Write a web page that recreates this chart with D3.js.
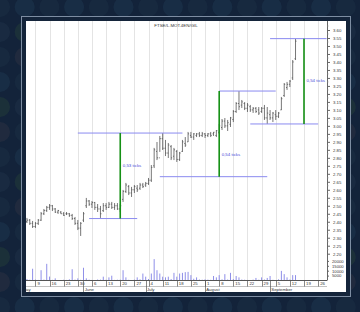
<!DOCTYPE html>
<html>
<head>
<meta charset="utf-8">
<script src="https://cdn.jsdelivr.net/npm/d3@7"></script>
<style>
    html, body { margin: 0; padding: 0; background: #13233a; }
    svg { display: block; font-family: "Liberation Sans", Arial, sans-serif; }
</style>
</head>
<body>
<div id="chart"></div>
<script>
// trading calendar shown on the axis
const axisStart = "2005-05-02";
const axisEnd = "2005-09-30";
const firstBar = "2005-05-04";
const title = "FTSE/L.MOT.4EN/GIL";
const monthNames = ["May", "June", "July", "August", "September"];

// daily OHLC, one value per trading day from firstBar on
const high = [
    2.424, 2.417, 2.405, 2.398, 2.417, 2.461, 2.480, 2.499, 2.511, 2.505,
    2.486, 2.474, 2.467, 2.461, 2.461, 2.455, 2.449, 2.430, 2.411, 2.398,
    2.461, 2.549, 2.536, 2.530, 2.524, 2.511, 2.499, 2.517, 2.517, 2.524,
    2.524, 2.517, 2.517, 2.511, 2.599, 2.643, 2.630, 2.618, 2.630, 2.630,
    2.643, 2.643, 2.649, 2.674, 2.755, 2.862, 2.899, 2.937, 2.955, 2.912,
    2.893, 2.880, 2.862, 2.849, 2.837, 2.912, 2.930, 2.962, 2.962, 2.955,
    2.955, 2.962, 2.962, 2.955, 2.955, 2.962, 2.962, 2.974, 3.012, 3.043,
    3.049, 3.037, 3.056, 3.099, 3.149, 3.218, 3.162, 3.149, 3.143, 3.131,
    3.118, 3.118, 3.118, 3.118, 3.131, 3.118, 3.099, 3.087, 3.099, 3.087,
    3.181, 3.268, 3.275, 3.287, 3.412, 3.544
];
const low = [
    2.392, 2.380, 2.361, 2.361, 2.380, 2.405, 2.442, 2.461, 2.474, 2.467,
    2.455, 2.449, 2.449, 2.436, 2.442, 2.430, 2.411, 2.380, 2.348, 2.311,
    2.398, 2.486, 2.499, 2.486, 2.474, 2.461, 2.424, 2.461, 2.474, 2.486,
    2.480, 2.474, 2.474, 2.461, 2.524, 2.580, 2.567, 2.555, 2.580, 2.586,
    2.599, 2.611, 2.618, 2.630, 2.649, 2.736, 2.786, 2.837, 2.849, 2.811,
    2.799, 2.786, 2.786, 2.774, 2.780, 2.837, 2.868, 2.899, 2.924, 2.912,
    2.930, 2.930, 2.930, 2.924, 2.930, 2.930, 2.937, 2.930, 2.949, 2.974,
    2.987, 2.968, 2.993, 3.024, 3.081, 3.099, 3.112, 3.099, 3.087, 3.087,
    3.081, 3.081, 3.068, 3.081, 3.037, 3.012, 3.037, 3.024, 3.037, 3.049,
    3.099, 3.181, 3.225, 3.243, 3.287, 3.412
];
const open = [
    2.40, 2.41, 2.39, 2.37, 2.39, 2.41, 2.45, 2.47, 2.49, 2.50,
    2.48, 2.46, 2.46, 2.45, 2.45, 2.45, 2.44, 2.42, 2.39, 2.36,
    2.41, 2.50, 2.53, 2.51, 2.52, 2.49, 2.48, 2.47, 2.50, 2.49,
    2.51, 2.49, 2.50, 2.48, 2.54, 2.59, 2.62, 2.58, 2.60, 2.61,
    2.61, 2.63, 2.63, 2.64, 2.66, 2.75, 2.84, 2.80, 2.92, 2.86,
    2.83, 2.87, 2.81, 2.84, 2.79, 2.84, 2.89, 2.90, 2.94, 2.93,
    2.94, 2.95, 2.94, 2.95, 2.94, 2.95, 2.95, 2.94, 2.96, 2.99,
    3.03, 3.00, 3.01, 3.04, 3.09, 3.14, 3.13, 3.14, 3.11, 3.12,
    3.10, 3.11, 3.10, 3.09, 3.11, 3.05, 3.07, 3.05, 3.07, 3.06,
    3.10, 3.19, 3.24, 3.26, 3.30, 3.42
];
const close = [
    2.41, 2.39, 2.37, 2.39, 2.41, 2.45, 2.47, 2.49, 2.50, 2.48,
    2.46, 2.47, 2.45, 2.44, 2.45, 2.44, 2.42, 2.39, 2.36, 2.39,
    2.45, 2.53, 2.51, 2.52, 2.49, 2.48, 2.45, 2.50, 2.49, 2.51,
    2.49, 2.50, 2.48, 2.50, 2.59, 2.63, 2.58, 2.60, 2.62, 2.60,
    2.63, 2.62, 2.64, 2.66, 2.74, 2.85, 2.80, 2.92, 2.86, 2.83,
    2.88, 2.80, 2.85, 2.79, 2.83, 2.90, 2.88, 2.95, 2.93, 2.95,
    2.95, 2.94, 2.95, 2.94, 2.95, 2.94, 2.96, 2.97, 3.00, 3.03,
    3.00, 3.02, 3.05, 3.09, 3.14, 3.12, 3.15, 3.11, 3.13, 3.10,
    3.11, 3.09, 3.08, 3.11, 3.05, 3.08, 3.05, 3.08, 3.06, 3.08,
    3.17, 3.26, 3.26, 3.28, 3.40, 3.53
];
const volume = [
    1500, 800, 12000, 1000, 600, 10500, 900, 17000, 4000, 700,
    2200, 500, 400, 800, 600, 1200, 11500, 900, 2200, 700,
    13000, 2200, 800, 600, 500, 1000, 900, 3900, 800, 3200,
    4900, 600, 800, 900, 10500, 3200, 700, 500, 900, 3200,
    1200, 7100, 3900, 1500, 7100, 21800, 10500, 7100, 3900, 3200,
    3900, 1500, 7800, 3900, 7100, 7800, 8500, 8800, 5500, 1800,
    3200, 1000, 800, 1200, 900, 700, 4600, 3200, 5500, 1200,
    6500, 1000, 7800, 1500, 4600, 3200, 1000, 800, 600, 500,
    900, 2600, 800, 3200, 1000, 2600, 4600, 700, 500, 1200,
    9800, 6500, 3200, 1000, 5500, 5500
];

const priceTicks = [2.20, 2.25, 2.30, 2.35, 2.40, 2.45, 2.50, 2.55, 2.60, 2.65,
    2.70, 2.75, 2.80, 2.85, 2.90, 2.95, 3.00, 3.05, 3.10, 3.15,
    3.20, 3.25, 3.30, 3.35, 3.40, 3.45, 3.50, 3.55, 3.60];
const volumeTicks = [5000, 10000, 15000, 20000];

// measured-move annotations
const topLines = [
    { from: "2005-05-30", to: "2005-07-20", value: 2.955 },
    { from: "2005-08-08", to: "2005-09-05", value: 3.218 },
    { from: "2005-09-01", to: "2005-09-29", value: 3.546 }
];
const bottomLines = [
    { from: "2005-06-03", to: "2005-06-28", value: 2.42 },
    { from: "2005-07-08", to: "2005-08-31", value: 2.682 },
    { from: "2005-08-23", to: "2005-09-26", value: 3.012 }
];
const moves = [
    { date: "2005-06-20", top: 2.955, bottom: 2.42, label: "0,53 ticks", at: 2.75 },
    { date: "2005-08-08", top: 3.218, bottom: 2.682, label: "0,54 ticks", at: 2.82 },
    { date: "2005-09-19", top: 3.546, bottom: 3.012, label: "0,54 ticks", at: 3.283 }
];

const W = 360, H = 312;
const panel = { left: 26, top: 21, right: 346, bottom: 292 };
const plotRight = 327, axisY = 280.5;

const fmt = d3.timeFormat("%Y-%m-%d");
const parse = d3.timeParse("%Y-%m-%d");
const days = d3.timeDay.range(parse(axisStart), d3.timeDay.offset(parse(axisEnd), 1))
    .filter(d => d.getDay() !== 0 && d.getDay() !== 6);
const keys = days.map(fmt);
const first = keys.indexOf(firstBar);

const bars = high.map((h, i) => ({
    key: keys[first + i], h: h, l: low[i], o: open[i], c: close[i], v: volume[i]
}));

const svg = d3.select("#chart").append("svg")
    .attr("width", W).attr("height", H);

// background with faint discs
const bgColors = ["#1a2c42", "#262d40", "#1f3539", "#1b314a", "#1a2c42", "#1c2e44"];
const discs = [];
d3.range(0, 16).forEach(c => d3.range(0, 14).forEach(r => discs.push({ c, r })));
svg.append("rect").attr("width", W).attr("height", H).attr("fill", "#13233a");
svg.append("g").selectAll("circle").data(discs).join("circle")
    .attr("cx", d => d.c * 24.7)
    .attr("cy", d => 7 + d.r * 25)
    .attr("r", 10)
    .attr("fill", d => bgColors[(d.c * 3 + d.r * 5) % bgColors.length])
    .attr("opacity", 0.75);

// frame and white panel
svg.append("rect")
    .attr("x", 21.5).attr("y", 16.5).attr("width", 329).attr("height", 280)
    .attr("fill", "#14243a").attr("stroke", "#7d8da2").attr("stroke-width", 1);
svg.append("rect")
    .attr("x", panel.left).attr("y", panel.top)
    .attr("width", panel.right - panel.left).attr("height", panel.bottom - panel.top)
    .attr("fill", "#ffffff");

svg.append("clipPath").attr("id", "panelClip")
    .append("rect")
    .attr("x", panel.left).attr("y", panel.top)
    .attr("width", plotRight - panel.left).attr("height", panel.bottom - panel.top);

// scales
const x = d3.scalePoint().domain(keys).range([21.3, 21.3 + 2.827 * (keys.length - 1)]);
const y = d3.scaleLinear().domain([2.20, 3.60]).range([253.7, 30]);
const yVol = d3.scaleLinear().domain([0, 25000]).range([axisY, 256]);

const g = svg.append("g").attr("clip-path", "url(#panelClip)");

const mondays = days.filter(d => d.getDay() === 1).map(fmt);
const monthStarts = keys.filter((k, i) => i === 0 || k.slice(5, 7) !== keys[i - 1].slice(5, 7));

// weekly grid
g.append("g").selectAll("line").data(mondays).join("line")
    .attr("x1", d => Math.round(x(d)) + 0.5).attr("x2", d => Math.round(x(d)) + 0.5)
    .attr("y1", panel.top).attr("y2", axisY)
    .attr("stroke", "#e4e4e4").attr("stroke-width", 1);

// volume
g.append("g").selectAll("line").data(bars).join("line")
    .attr("x1", d => x(d.key)).attr("x2", d => x(d.key))
    .attr("y1", axisY).attr("y2", d => yVol(d.v))
    .attr("stroke", "#8f8fe8").attr("stroke-width", 1);

// OHLC bars
const ohlc = g.append("g").attr("stroke", "#4a4a4a").attr("stroke-width", 0.75);
ohlc.selectAll("line.hl").data(bars).join("line").attr("class", "hl")
    .attr("x1", d => x(d.key)).attr("x2", d => x(d.key))
    .attr("y1", d => y(d.h)).attr("y2", d => y(d.l));
ohlc.selectAll("line.o").data(bars).join("line").attr("class", "o")
    .attr("x1", d => x(d.key) - 1).attr("x2", d => x(d.key))
    .attr("y1", d => y(d.o)).attr("y2", d => y(d.o));
ohlc.selectAll("line.c").data(bars).join("line").attr("class", "c")
    .attr("x1", d => x(d.key)).attr("x2", d => x(d.key) + 1)
    .attr("y1", d => y(d.c)).attr("y2", d => y(d.c));

// annotations
const ann = svg.append("g");
ann.selectAll("line.top").data(topLines.concat(bottomLines)).join("line")
    .attr("x1", d => x(d.from)).attr("x2", d => x(d.to))
    .attr("y1", d => y(d.value)).attr("y2", d => y(d.value))
    .attr("stroke", "#8a8af0").attr("stroke-width", 1);
ann.selectAll("line.move").data(moves).join("line")
    .attr("x1", d => x(d.date)).attr("x2", d => x(d.date))
    .attr("y1", d => y(d.top)).attr("y2", d => y(d.bottom))
    .attr("stroke", "#159015").attr("stroke-width", 1.6);
ann.selectAll("text").data(moves).join("text")
    .attr("x", d => x(d.date) + 2.5).attr("y", d => y(d.at) + 1.5)
    .attr("font-size", 4.4).attr("fill", "#4a4ad8")
    .text(d => d.label);

// title
svg.append("text")
    .attr("x", 176).attr("y", 27)
    .attr("text-anchor", "middle").attr("font-size", 4.4).attr("fill", "#333")
    .text(title);

// right price axis
const axisG = svg.append("g")
    .attr("transform", `translate(${plotRight},0)`)
    .call(d3.axisRight(y).tickValues(priceTicks).tickFormat(d3.format(".2f")).tickSize(3).tickPadding(3));
axisG.select(".domain").remove();
axisG.append("line").attr("x1", 0.5).attr("x2", 0.5).attr("y1", panel.top).attr("y2", axisY)
    .attr("stroke", "#666");
axisG.selectAll(".tick line").attr("stroke", "#666");
axisG.selectAll(".tick text").attr("font-size", 4.3).attr("fill", "#333")
    .attr("font-family", "'Liberation Sans', Arial, sans-serif");
axisG.append("g").selectAll("line")
    .data(d3.range(2.20, 3.65, 0.025).filter(v => !priceTicks.some(t => Math.abs(t - v) < 1e-6)))
    .join("line")
    .attr("x1", 0).attr("x2", 1.5)
    .attr("y1", d => y(d)).attr("y2", d => y(d))
    .attr("stroke", "#888").attr("stroke-width", 0.6);

const volG = svg.append("g")
    .attr("transform", `translate(${plotRight},0)`)
    .call(d3.axisRight(yVol).tickValues(volumeTicks).tickFormat(d3.format("d")).tickSize(2).tickPadding(3));
volG.select(".domain").remove();
volG.selectAll(".tick line").attr("stroke", "#666");
volG.selectAll(".tick text").attr("font-size", 4.2).attr("fill", "#333")
    .attr("font-family", "'Liberation Sans', Arial, sans-serif");

// bottom date axis
const bx = svg.append("g").attr("clip-path", "url(#panelClip)");
bx.append("line").attr("x1", panel.left).attr("x2", plotRight).attr("y1", axisY).attr("y2", axisY)
    .attr("stroke", "#555");
bx.append("line").attr("x1", panel.left).attr("x2", plotRight).attr("y1", axisY + 6).attr("y2", axisY + 6)
    .attr("stroke", "#999").attr("stroke-width", 0.6);
bx.selectAll("line.wk").data(mondays).join("line").attr("class", "wk")
    .attr("x1", d => Math.round(x(d)) + 0.5).attr("x2", d => Math.round(x(d)) + 0.5)
    .attr("y1", axisY).attr("y2", axisY + 6)
    .attr("stroke", "#555").attr("stroke-width", 0.7);
bx.selectAll("text.wk").data(mondays).join("text").attr("class", "wk")
    .attr("x", d => x(d) + 2).attr("y", axisY + 4.6)
    .attr("font-size", 4.3).attr("fill", "#333")
    .text(d => +d.slice(8, 10));
bx.selectAll("line.mo").data(monthStarts).join("line").attr("class", "mo")
    .attr("x1", d => Math.round(x(d)) + 0.5).attr("x2", d => Math.round(x(d)) + 0.5)
    .attr("y1", axisY).attr("y2", panel.bottom)
    .attr("stroke", "#555").attr("stroke-width", 0.7);
bx.selectAll("text.mo").data(monthStarts).join("text").attr("class", "mo")
    .attr("x", d => x(d) + 1.2).attr("y", axisY + 10.6)
    .attr("font-size", 4.3).attr("fill", "#333")
    .text((d, i) => monthNames[i]);
</script>
</body>
</html>
